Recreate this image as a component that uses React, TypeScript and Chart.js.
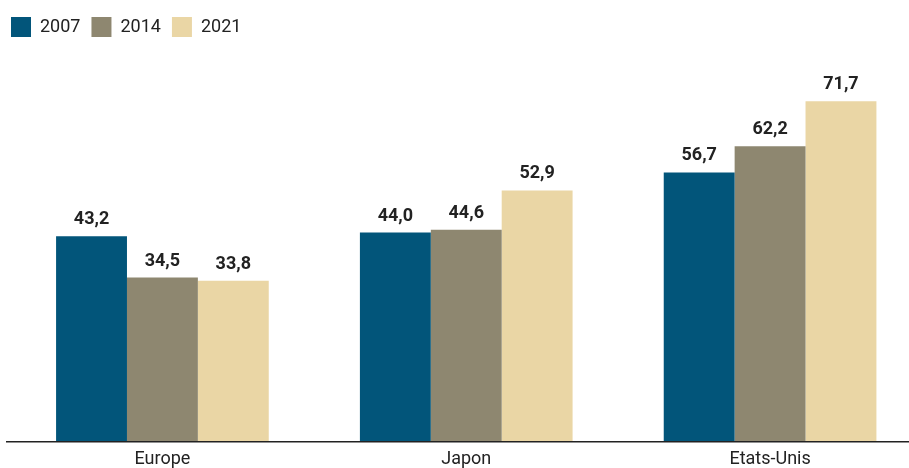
import React, { useEffect, useRef } from "react";
import { Chart, registerables } from "chart.js";

Chart.register(...registerables);

const categories = ["Europe", "Japon", "Etats-Unis"];
const seriesLabels = ["2007", "2014", "2021"];
const values2007 = [43.2, 44.0, 56.7];
const values2014 = [34.5, 44.6, 62.2];
const values2021 = [33.8, 52.9, 71.7];
const seriesColors = ["#02557A", "#8E8770", "#EAD6A5"];

const FONT = "Roboto, 'Noto Sans', sans-serif";

const legendHeightPlugin = {
  id: "legendHeight",
  beforeInit(chart: any) {
    const orig = chart.legend.fit;
    chart.legend.fit = function () {
      orig.call(this);
      this.height = 56;
    };
  },
};

const dataLabelPlugin = {
  id: "dataLabels",
  afterDatasetsDraw(chart: any) {
    const ctx = chart.ctx;
    ctx.save();
    ctx.font = `bold 18px ${FONT}`;
    ctx.fillStyle = "#222";
    ctx.textAlign = "center";
    ctx.textBaseline = "alphabetic";
    chart.data.datasets.forEach((ds: any, i: number) => {
      const meta = chart.getDatasetMeta(i);
      meta.data.forEach((bar: any, j: number) => {
        const v = ds.data[j] as number;
        ctx.fillText(v.toFixed(1).replace(".", ","), bar.x, bar.y - 12);
      });
    });
    ctx.restore();
  },
};

const axisLinePlugin = {
  id: "axisLine",
  afterDatasetsDraw(chart: any) {
    const ctx = chart.ctx;
    const y = chart.scales.y.getPixelForValue(0);
    ctx.save();
    ctx.strokeStyle = "#222";
    ctx.lineWidth = 1.5;
    ctx.beginPath();
    ctx.moveTo(6, y + 0.75);
    ctx.lineTo(chart.width, y + 0.75);
    ctx.stroke();
    ctx.restore();
  },
};

export default function App() {
  const ref = useRef<HTMLCanvasElement | null>(null);

  useEffect(() => {
    if (!ref.current) return;
    const seriesValues = [values2007, values2014, values2021];
    const chart = new Chart(ref.current, {
      type: "bar",
      data: {
        labels: categories,
        datasets: seriesLabels.map((label, i) => ({
          label,
          data: seriesValues[i],
          backgroundColor: seriesColors[i],
          borderWidth: 0,
          categoryPercentage: 0.7,
          barPercentage: 1.0,
        })),
      },
      options: {
        animation: false,
        responsive: true,
        maintainAspectRatio: false,
        layout: { padding: { left: 0, right: 0, top: 6, bottom: 0 } },
        plugins: {
          legend: {
            position: "top",
            align: "start",
            labels: {
              boxWidth: 20,
              boxHeight: 20,
              padding: 11,
              color: "#222",
              font: { family: FONT, size: 18 },
            },
          },
          tooltip: { enabled: false },
        },
        scales: {
          x: {
            grid: { display: false, drawTicks: false },
            border: { display: false },
            ticks: {
              color: "#222",
              padding: 8,
              font: { family: FONT, size: 18 },
            },
            afterFit: (s: any) => {
              s.height = 27;
            },
          },
          y: {
            min: 0,
            max: 80,
            grid: { display: false, drawTicks: false },
            border: { display: false },
            ticks: { display: false },
            afterFit: (s: any) => {
              s.width = 10.5;
            },
          },
        },
      },
      plugins: [legendHeightPlugin, dataLabelPlugin, axisLinePlugin],
    });
    return () => chart.destroy();
  }, []);

  return (
    <div
      style={{
        position: "fixed",
        left: 0,
        top: 0,
        width: 909,
        height: 468,
        overflow: "hidden",
        background: "#fff",
      }}
    >
      <div style={{ position: "relative", width: 922, height: 468 }}>
        <canvas ref={ref} />
      </div>
    </div>
  );
}
